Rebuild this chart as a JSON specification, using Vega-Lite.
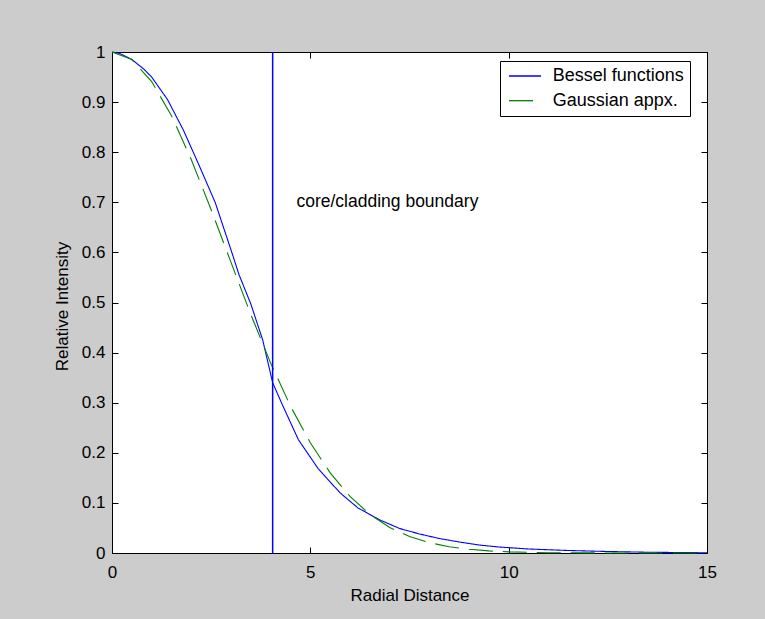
{
  "$schema": "https://vega.github.io/schema/vega-lite/v6.json",
  "width": 595,
  "height": 501,
  "autosize": {"type": "none"},
  "padding": {"left": 112, "top": 52, "right": 58, "bottom": 66},
  "background": "#cccccc",
  "config": {
    "font": "Liberation Sans",
    "view": {"fill": "white", "stroke": "black", "strokeWidth": 1},
    "axis": {
      "domain": false,
      "grid": false,
      "tickColor": "black",
      "tickSize": -6,
      "tickWidth": 1,
      "labelColor": "black",
      "labelFontSize": 17,
      "titleFontSize": 17,
      "titleFontWeight": "normal",
      "titleColor": "black",
      "labelFlush": false,
      "labelOverlap": false
    }
  },
  "datasets": {
    "curves": [
      {"r": 0, "intensity": 1.0, "series": "Bessel functions"},
      {"r": 0.2, "intensity": 0.997, "series": "Bessel functions"},
      {"r": 0.5, "intensity": 0.985, "series": "Bessel functions"},
      {"r": 0.8, "intensity": 0.966, "series": "Bessel functions"},
      {"r": 1.0, "intensity": 0.95, "series": "Bessel functions"},
      {"r": 1.4, "intensity": 0.905, "series": "Bessel functions"},
      {"r": 1.8, "intensity": 0.844, "series": "Bessel functions"},
      {"r": 2.2, "intensity": 0.773, "series": "Bessel functions"},
      {"r": 2.6, "intensity": 0.7, "series": "Bessel functions"},
      {"r": 3.0, "intensity": 0.605, "series": "Bessel functions"},
      {"r": 3.2, "intensity": 0.556, "series": "Bessel functions"},
      {"r": 3.5, "intensity": 0.497, "series": "Bessel functions"},
      {"r": 3.8, "intensity": 0.425, "series": "Bessel functions"},
      {"r": 4.05, "intensity": 0.34, "series": "Bessel functions"},
      {"r": 4.3, "intensity": 0.295, "series": "Bessel functions"},
      {"r": 4.7, "intensity": 0.226, "series": "Bessel functions"},
      {"r": 5.2, "intensity": 0.168, "series": "Bessel functions"},
      {"r": 5.75, "intensity": 0.12, "series": "Bessel functions"},
      {"r": 6.2, "intensity": 0.09, "series": "Bessel functions"},
      {"r": 6.75, "intensity": 0.066, "series": "Bessel functions"},
      {"r": 7.25, "intensity": 0.049, "series": "Bessel functions"},
      {"r": 7.75, "intensity": 0.038, "series": "Bessel functions"},
      {"r": 8.25, "intensity": 0.029, "series": "Bessel functions"},
      {"r": 8.75, "intensity": 0.022, "series": "Bessel functions"},
      {"r": 9.25, "intensity": 0.016, "series": "Bessel functions"},
      {"r": 9.75, "intensity": 0.012, "series": "Bessel functions"},
      {"r": 10.5, "intensity": 0.008, "series": "Bessel functions"},
      {"r": 11.5, "intensity": 0.005, "series": "Bessel functions"},
      {"r": 12.5, "intensity": 0.003, "series": "Bessel functions"},
      {"r": 13.5, "intensity": 0.0015, "series": "Bessel functions"},
      {"r": 15, "intensity": 0.0005, "series": "Bessel functions"},
      {"r": 0, "intensity": 1.0, "series": "Gaussian appx."},
      {"r": 0.5, "intensity": 0.985, "series": "Gaussian appx."},
      {"r": 1.0, "intensity": 0.941, "series": "Gaussian appx."},
      {"r": 1.5, "intensity": 0.873, "series": "Gaussian appx."},
      {"r": 2.0, "intensity": 0.785, "series": "Gaussian appx."},
      {"r": 2.5, "intensity": 0.685, "series": "Gaussian appx."},
      {"r": 3.0, "intensity": 0.58, "series": "Gaussian appx."},
      {"r": 3.5, "intensity": 0.476, "series": "Gaussian appx."},
      {"r": 4.0, "intensity": 0.379, "series": "Gaussian appx."},
      {"r": 4.5, "intensity": 0.293, "series": "Gaussian appx."},
      {"r": 5.0, "intensity": 0.22, "series": "Gaussian appx."},
      {"r": 5.5, "intensity": 0.16, "series": "Gaussian appx."},
      {"r": 6.0, "intensity": 0.113, "series": "Gaussian appx."},
      {"r": 6.5, "intensity": 0.077, "series": "Gaussian appx."},
      {"r": 7.0, "intensity": 0.051, "series": "Gaussian appx."},
      {"r": 7.5, "intensity": 0.033, "series": "Gaussian appx."},
      {"r": 8.0, "intensity": 0.0207, "series": "Gaussian appx."},
      {"r": 8.5, "intensity": 0.0125, "series": "Gaussian appx."},
      {"r": 9.0, "intensity": 0.0074, "series": "Gaussian appx."},
      {"r": 9.5, "intensity": 0.0042, "series": "Gaussian appx."},
      {"r": 10.0, "intensity": 0.0023, "series": "Gaussian appx."},
      {"r": 10.5, "intensity": 0.0013, "series": "Gaussian appx."},
      {"r": 11.0, "intensity": 0.0006, "series": "Gaussian appx."},
      {"r": 12.0, "intensity": 0.0002, "series": "Gaussian appx."},
      {"r": 13.0, "intensity": 0.0, "series": "Gaussian appx."},
      {"r": 15.0, "intensity": 0.0, "series": "Gaussian appx."}
    ],
    "boundary": [{"r": 4.05}],
    "note": [{"r": 4.65, "intensity": 0.7, "label": "core/cladding boundary"}]
  },
  "layer": [
    {
      "data": {"name": "curves"},
      "mark": {"type": "line", "strokeWidth": 1.1},
      "encoding": {
        "x": {
          "field": "r", "type": "quantitative",
          "scale": {"domain": [0, 15], "nice": false, "zero": false},
          "axis": {"values": [0, 5, 10, 15], "title": "Radial Distance", "labelPadding": 17, "titleY": 47, "titleBaseline": "alphabetic"}
        },
        "y": {
          "field": "intensity", "type": "quantitative",
          "scale": {"domain": [0, 1], "nice": false},
          "axis": {"values": [0, 0.1, 0.2, 0.3, 0.4, 0.5, 0.6, 0.7, 0.8, 0.9, 1], "format": "~g", "title": "Relative Intensity", "labelPadding": 13, "titleX": -45, "titleY": 254, "titleBaseline": "alphabetic"}
        },
        "color": {
          "field": "series", "type": "nominal",
          "scale": {"domain": ["Bessel functions", "Gaussian appx."], "range": ["#0000ff", "#008000"]},
          "legend": {
            "orient": "none", "legendX": 388, "legendY": 9, "title": null,
            "fillColor": "white", "strokeColor": "black", "cornerRadius": 0,
            "padding": 6, "symbolType": "M-0.75,0H3.25", "symbolSize": 256, "symbolStrokeWidth": 1.3,
            "labelOffset": 28.7,
            "labelFontSize": 18, "rowPadding": 6.7, "labelColor": "black",
            "encode": {"symbols": {"update": {
              "strokeDash": {"signal": "datum.value === 'Gaussian appx.' ? [24, 10] : [1, 0]"}
            }}}
          }
        },
        "strokeDash": {
          "condition": {"test": "datum.series === 'Gaussian appx.'", "value": [24, 10]},
          "value": [1, 0]
        }
      }
    },
    {
      "data": {"name": "boundary"},
      "mark": {"type": "rule", "color": "#0000ff", "strokeWidth": 1.5},
      "encoding": {
        "x": {
          "field": "r", "type": "quantitative",
          "axis": {"orient": "top", "values": [0, 5, 10, 15], "labels": false, "title": null}
        }
      }
    },
    {
      "data": {"name": "note"},
      "mark": {"type": "text", "align": "left", "baseline": "middle", "fontSize": 17.5, "color": "black"},
      "encoding": {
        "x": {"field": "r", "type": "quantitative", "axis": null},
        "y": {
          "field": "intensity", "type": "quantitative",
          "axis": {"orient": "right", "values": [0, 0.1, 0.2, 0.3, 0.4, 0.5, 0.6, 0.7, 0.8, 0.9, 1], "labels": false, "title": null}
        },
        "text": {"field": "label"}
      }
    }
  ],
  "resolve": {"axis": {"x": "independent", "y": "independent"}}
}
